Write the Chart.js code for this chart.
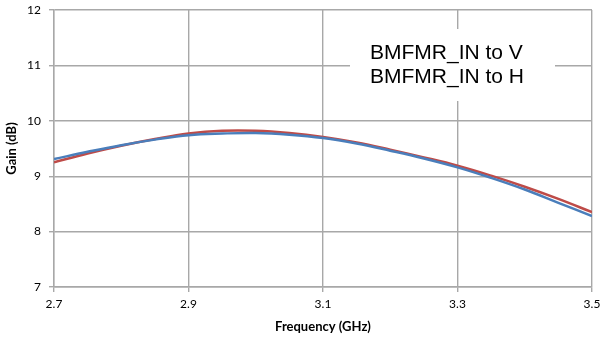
<!DOCTYPE html>
<html>
<head>
  <meta charset="UTF-8">
  <title>Gain vs Frequency</title>
  <script src="https://cdnjs.cloudflare.com/ajax/libs/Chart.js/4.4.1/chart.umd.min.js"></script>
  <style>
    html, body { margin: 0; padding: 0; background: #fff; }
    #wrap { width: 602px; height: 339px; }
  </style>
</head>
<body>
  <div id="wrap"><canvas id="gainChart" width="602" height="339"></canvas></div>
  <script>
    // values
    const freqGHz = [2.7, 2.75, 2.8, 2.85, 2.9, 2.95, 3.0, 3.05, 3.1, 3.15, 3.2, 3.25, 3.3, 3.35, 3.4, 3.45, 3.5];
    const gainV = [9.31, 9.44, 9.56, 9.66, 9.74, 9.77, 9.78, 9.75, 9.69, 9.59, 9.46, 9.32, 9.16, 8.97, 8.76, 8.52, 8.28];
    const gainH = [9.25, 9.41, 9.55, 9.67, 9.77, 9.82, 9.82, 9.78, 9.71, 9.61, 9.48, 9.34, 9.19, 9.01, 8.81, 8.59, 8.35];
    const seriesNames = ['BMFMR_IN to V', 'BMFMR_IN to H'];

    const gridColor = '#a8a8a8';
    const tickFont = { family: 'Lato, "Open Sans", sans-serif', size: 12 };
    const titleFont = { family: 'Lato, "Open Sans", sans-serif', size: 13, weight: 'bold' };

    // legend drawn as a white box inside the plot, text only
    const boxLegend = {
      id: 'boxLegend',
      afterDatasetsDraw(chart) {
        const ctx = chart.ctx;
        ctx.save();
        ctx.fillStyle = '#fff';
        ctx.fillRect(350, 29, 205, 72);
        ctx.fillStyle = '#000';
        ctx.font = '21px "Liberation Sans", Arial, sans-serif';
        ctx.textBaseline = 'alphabetic';
        chart.data.datasets.forEach((ds, i) => {
          ctx.fillText(ds.label, 370, 59 + i * 24);
        });
        ctx.restore();
      }
    };

    const toPoints = (ys) => freqGHz.map((x, i) => ({ x: x, y: ys[i] }));

    new Chart(document.getElementById('gainChart'), {
      type: 'line',
      data: {
        datasets: [
          { label: seriesNames[0], data: toPoints(gainV), borderColor: '#4a7ebb', borderWidth: 2.5, pointRadius: 0, tension: 0.4, fill: false },
          { label: seriesNames[1], data: toPoints(gainH), borderColor: '#be4b48', borderWidth: 2.5, pointRadius: 0, tension: 0.4, fill: false }
        ]
      },
      options: {
        responsive: false,
        animation: false,
        layout: { padding: { top: 10, right: 10, left: 0, bottom: 0 } },
        plugins: { legend: { display: false }, tooltip: { enabled: false } },
        scales: {
          x: {
            type: 'linear',
            min: 2.7,
            max: 3.5,
            afterFit: (s) => { s.height = 52; s.paddingRight = 0; s.paddingLeft = 0; },
            ticks: { stepSize: 0.2, color: '#000', font: tickFont, padding: 5, maxRotation: 0,
                     callback: (v) => v.toFixed(1) },
            grid: { color: gridColor, lineWidth: 1.4, tickLength: 5, tickColor: gridColor },
            border: { color: gridColor, width: 1.4 },
            title: { display: true, text: 'Frequency (GHz)', color: '#000', font: titleFont, padding: { top: 0 } }
          },
          y: {
            min: 7,
            max: 12,
            afterFit: (s) => { s.width = 54; s.paddingTop = 0; s.paddingBottom = 0; },
            ticks: { stepSize: 1, color: '#000', font: tickFont, padding: 8 },
            grid: { color: gridColor, lineWidth: 1.4, tickLength: 5, tickColor: gridColor },
            border: { color: gridColor, width: 1.4 },
            title: { display: true, text: 'Gain (dB)', color: '#000', font: titleFont, padding: { bottom: 4 } }
          }
        }
      },
      plugins: [boxLegend]
    });
  </script>
</body>
</html>
